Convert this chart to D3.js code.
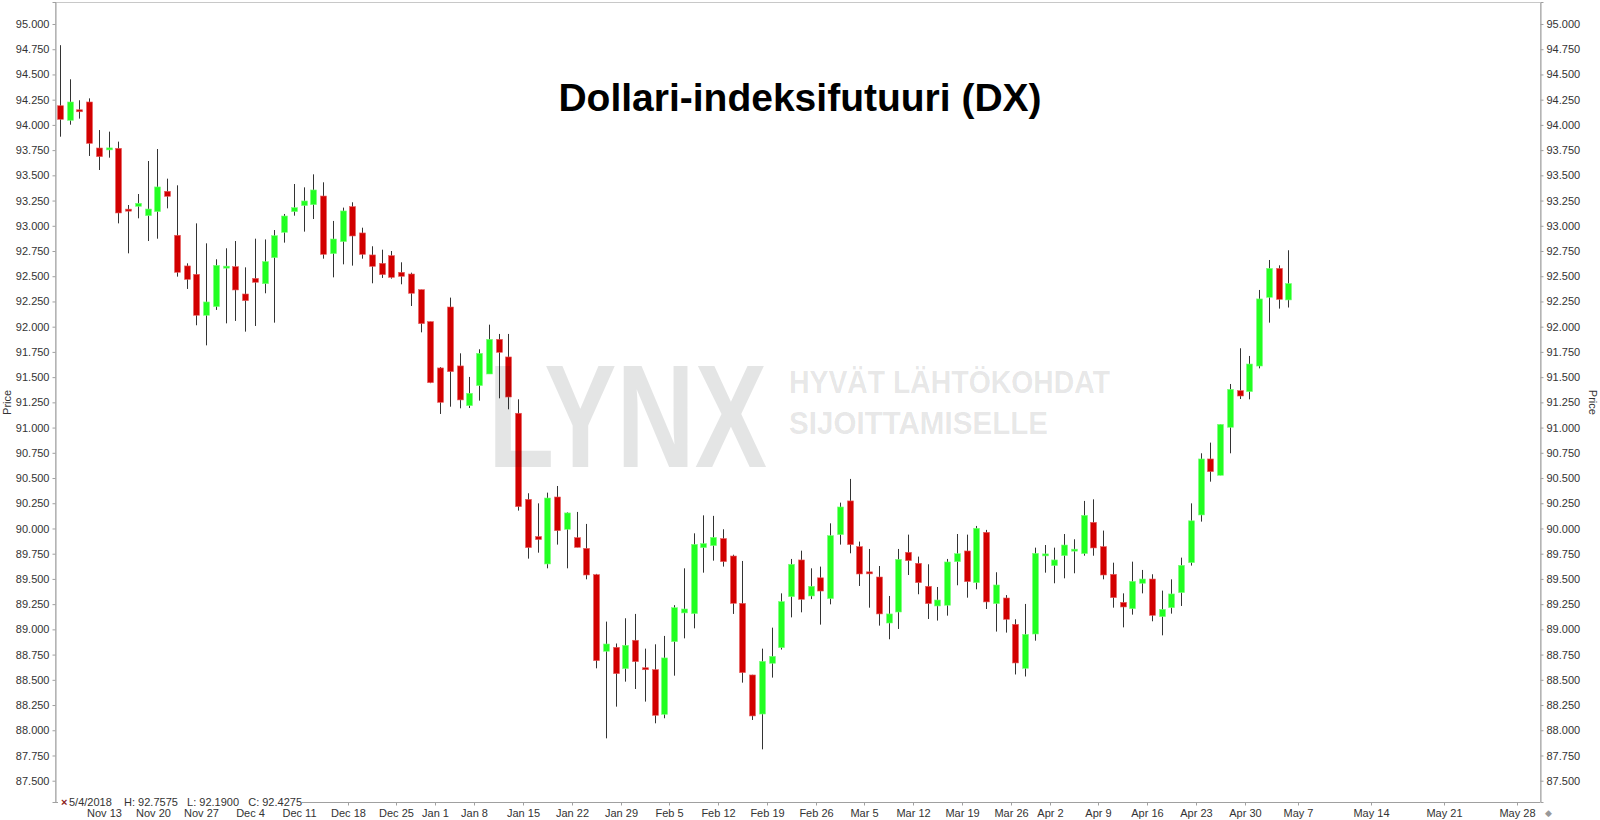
<!DOCTYPE html>
<html><head><meta charset="utf-8">
<script src="https://cdn.jsdelivr.net/npm/d3@7"></script>
<style>
html,body{margin:0;padding:0;background:#fff;}
svg{display:block;}
text{font-family:"Liberation Sans",Arial,sans-serif;}
</style></head>
<body>
<svg id="chart" width="1600" height="820"></svg>
<script>
// ---- data ----
const dates = [
"2017-11-06","2017-11-07","2017-11-08","2017-11-09","2017-11-10",
"2017-11-13","2017-11-14","2017-11-15","2017-11-16","2017-11-17",
"2017-11-20","2017-11-21","2017-11-22","2017-11-23","2017-11-24",
"2017-11-27","2017-11-28","2017-11-29","2017-11-30","2017-12-01",
"2017-12-04","2017-12-05","2017-12-06","2017-12-07","2017-12-08",
"2017-12-11","2017-12-12","2017-12-13","2017-12-14","2017-12-15",
"2017-12-18","2017-12-19","2017-12-20","2017-12-21","2017-12-22",
"2017-12-26","2017-12-27","2017-12-28","2017-12-29",
"2018-01-02","2018-01-03","2018-01-04","2018-01-05",
"2018-01-08","2018-01-09","2018-01-10","2018-01-11","2018-01-12",
"2018-01-15","2018-01-16","2018-01-17","2018-01-18","2018-01-19",
"2018-01-22","2018-01-23","2018-01-24","2018-01-25","2018-01-26",
"2018-01-29","2018-01-30","2018-01-31","2018-02-01","2018-02-02",
"2018-02-05","2018-02-06","2018-02-07","2018-02-08","2018-02-09",
"2018-02-12","2018-02-13","2018-02-14","2018-02-15","2018-02-16",
"2018-02-19","2018-02-20","2018-02-21","2018-02-22","2018-02-23",
"2018-02-26","2018-02-27","2018-02-28","2018-03-01","2018-03-02",
"2018-03-05","2018-03-06","2018-03-07","2018-03-08","2018-03-09",
"2018-03-12","2018-03-13","2018-03-14","2018-03-15","2018-03-16",
"2018-03-19","2018-03-20","2018-03-21","2018-03-22","2018-03-23",
"2018-03-26","2018-03-27","2018-03-28","2018-03-29",
"2018-04-02","2018-04-03","2018-04-04","2018-04-05","2018-04-06",
"2018-04-09","2018-04-10","2018-04-11","2018-04-12","2018-04-13",
"2018-04-16","2018-04-17","2018-04-18","2018-04-19","2018-04-20",
"2018-04-23","2018-04-24","2018-04-25","2018-04-26","2018-04-27",
"2018-04-30","2018-05-01","2018-05-02","2018-05-03","2018-05-04"];

const open = [
94.19,94.045,94.15,94.227,93.771,93.76,93.768,93.165,93.193,93.1,
93.14,93.342,92.906,92.602,92.519,92.113,92.199,92.585,92.595,92.324,
92.479,92.426,92.684,92.935,93.14,93.2,93.209,93.295,92.724,92.843,
93.19,92.929,92.711,92.628,92.704,92.539,92.522,92.367,92.05,91.591,
92.195,91.611,91.217,91.416,91.531,91.875,91.7,91.142,90.289,89.92,
89.648,90.312,89.992,89.909,89.803,89.542,88.783,88.822,88.611,88.892,
88.62,88.601,88.158,88.878,89.163,89.156,89.81,89.83,89.9,89.727,
89.258,88.548,88.161,88.664,88.819,89.324,89.688,89.331,89.511,89.305,
89.939,90.273,89.82,89.57,89.519,89.063,89.172,89.764,89.655,89.427,
89.232,89.239,89.671,89.777,89.463,89.962,89.255,89.311,89.05,88.614,
88.954,89.733,89.632,89.731,89.78,89.751,90.061,89.82,89.546,89.268,
89.205,89.457,89.499,89.126,89.215,89.364,89.661,90.134,90.689,90.527,
91.003,91.366,91.356,91.61,92.291,92.578,92.265];

const high = [
94.79,94.452,94.244,94.263,93.949,93.933,93.834,93.206,93.315,93.642,
93.761,93.467,93.401,92.628,93.024,92.826,92.668,92.777,92.849,92.588,
92.872,92.865,92.958,93.117,93.414,93.381,93.51,93.431,93.048,93.18,
93.233,92.981,92.797,92.763,92.75,92.638,92.535,92.367,92.05,91.6,
92.288,91.736,91.502,91.776,92.02,91.928,91.928,91.28,90.349,90.249,
90.355,90.421,90.16,90.164,90.045,89.55,89.077,88.86,89.11,89.153,
88.809,88.852,88.935,89.24,89.605,89.952,90.13,90.125,89.992,89.74,
89.678,88.55,88.809,89.017,89.357,89.698,89.78,89.605,89.622,90.051,
90.256,90.491,89.87,89.797,89.628,89.331,89.797,89.939,89.721,89.645,
89.42,89.698,89.945,89.939,90.025,89.986,89.566,89.34,89.1,89.252,
89.81,89.836,89.81,89.945,89.893,90.273,90.289,89.979,89.661,89.357,
89.671,89.589,89.546,89.384,89.496,89.711,90.249,90.745,90.851,91.032,
91.432,91.786,91.71,92.364,92.661,92.608,92.7575];

const low = [
93.883,94.002,94.062,93.692,93.553,93.675,93.024,92.727,93.074,92.849,
92.872,93.173,92.496,92.374,92.014,91.815,92.166,92.033,92.057,91.951,
92.007,92.331,92.04,92.833,93.1,92.942,93.067,92.674,92.489,92.618,
92.605,92.674,92.43,92.483,92.476,92.42,92.205,91.944,91.44,91.135,
91.207,91.191,91.194,91.267,91.531,91.29,91.181,90.177,89.701,89.76,
89.605,89.84,89.605,89.813,89.496,88.614,87.92,88.234,88.482,88.409,
88.284,88.069,88.119,88.541,88.911,89.01,89.562,89.681,89.622,89.153,
88.472,88.102,87.811,88.522,88.8,89.119,89.169,89.3,89.047,89.248,
89.84,89.754,89.43,89.215,89.037,88.902,89.004,89.539,89.348,89.103,
89.087,89.136,89.437,89.314,89.397,89.202,88.978,88.968,88.553,88.533,
88.888,89.562,89.457,89.506,89.556,89.73,89.73,89.496,89.215,89.02,
89.146,89.357,89.08,88.941,89.156,89.232,89.632,90.068,90.464,90.527,
90.745,91.283,91.28,91.587,92.04,92.179,92.19];

const close = [
94.055,94.227,94.138,93.817,93.685,93.772,93.127,93.145,93.223,93.166,
93.385,93.292,92.539,92.469,92.113,92.245,92.608,92.6,92.364,92.258,
92.44,92.645,92.902,93.097,93.18,93.246,93.355,92.717,92.869,93.147,
92.899,92.717,92.598,92.516,92.489,92.499,92.331,92.03,91.445,91.25,
91.554,91.274,91.34,91.736,91.875,91.746,91.303,90.216,89.81,89.89,
90.302,89.978,90.154,89.813,89.539,88.69,88.855,88.561,88.842,88.68,
88.6,88.148,88.717,89.215,89.202,89.843,89.85,89.912,89.671,89.258,
88.571,88.142,88.683,88.733,89.275,89.645,89.298,89.427,89.38,89.929,
90.213,89.84,89.549,89.555,89.153,89.153,89.694,89.681,89.463,89.255,
89.291,89.668,89.75,89.473,90.002,89.272,89.44,89.1,88.667,88.951,
89.754,89.748,89.688,89.836,89.795,90.13,89.807,89.539,89.314,89.222,
89.476,89.499,89.139,89.199,89.351,89.635,90.076,90.689,90.563,91.032,
91.379,91.313,91.63,92.275,92.578,92.271,92.4275];

const xTickLabels = ["Nov 13","Nov 20","Nov 27","Dec 4","Dec 11","Dec 18","Dec 25",
"Jan 1","Jan 8","Jan 15","Jan 22","Jan 29","Feb 5","Feb 12","Feb 19","Feb 26",
"Mar 5","Mar 12","Mar 19","Mar 26","Apr 2","Apr 9","Apr 16","Apr 23","Apr 30",
"May 7","May 14","May 21","May 28"];
const xTickDates = ["2017-11-13","2017-11-20","2017-11-27","2017-12-04","2017-12-11","2017-12-18","2017-12-25",
"2018-01-01","2018-01-08","2018-01-15","2018-01-22","2018-01-29","2018-02-05","2018-02-12","2018-02-19","2018-02-26",
"2018-03-05","2018-03-12","2018-03-19","2018-03-26","2018-04-02","2018-04-09","2018-04-16","2018-04-23","2018-04-30",
"2018-05-07","2018-05-14","2018-05-21","2018-05-28"];

const title = "Dollari-indeksifutuuri (DX)";
const legendDate = "5/4/2018", legendH = "92.7575", legendL = "92.1900", legendC = "92.4275";

// ---- chart ----
const L = 55, R = 1540, T = 2, B = 802;
const svg = d3.select("#chart");

const x = d3.scaleLinear().domain([-0.5, 151.8]).range([L, R]);
const y = d3.scaleLinear().domain([87.289, 95.218]).range([B, T]);

// frame
svg.append("rect").attr("x", L + 0.5).attr("y", T + 0.5).attr("width", R - L).attr("height", B - T)
  .attr("fill", "#fff").attr("stroke", "#c8c8c8");

// y axes
const yTicks = d3.range(87.5, 95.001, 0.25);
const fmt = d3.format(".3f");
const yl = svg.append("g").attr("transform", `translate(${L + 0.5},0)`)
  .call(d3.axisLeft(y).tickValues(yTicks).tickFormat(fmt).tickSize(3).tickPadding(3));
const yr = svg.append("g").attr("transform", `translate(${R + 0.5},0)`)
  .call(d3.axisRight(y).tickValues(yTicks).tickFormat(fmt).tickSize(3).tickPadding(3));
[yl, yr].forEach(g => {
  g.select(".domain").attr("stroke", "#a0a0a0");
  g.selectAll(".tick line").attr("stroke", "#a0a0a0");
  g.selectAll("text").attr("font-size", 11).attr("fill", "#333")
    .attr("font-family", "'Liberation Sans',Arial,sans-serif");
});

svg.append("text").attr("transform", `translate(11,${y(91.25)}) rotate(-90)`)
  .attr("text-anchor", "middle").attr("font-size", 11).attr("fill", "#333").text("Price");
svg.append("text").attr("transform", `translate(1589,${y(91.25)}) rotate(90)`)
  .attr("text-anchor", "middle").attr("font-size", 11).attr("fill", "#333").text("Price");

// x axis positions
const parse = d3.timeParse("%Y-%m-%d");
const lastIdx = dates.length - 1;
const lastDate = parse(dates[lastIdx]);
function tickIndex(ds) {
  const d = parse(ds);
  const i = dates.findIndex(s => parse(s) >= d);
  if (i >= 0) return i - 0.5;
  const days = Math.round((d - lastDate) / 864e5);
  return lastIdx + 1 + (days - 3) * 1.07;
}
const xt = svg.append("g").attr("transform", `translate(0,${B + 0.5})`);
xt.append("line").attr("x1", L).attr("x2", R).attr("stroke", "#a0a0a0");
xTickLabels.forEach((lab, k) => {
  const px = Math.round(x(tickIndex(xTickDates[k]))) + 0.5;
  xt.append("line").attr("x1", px).attr("x2", px).attr("y1", 0).attr("y2", 3).attr("stroke", "#a0a0a0");
  xt.append("text").attr("x", px).attr("y", 14).attr("text-anchor", "middle")
    .attr("font-size", 11).attr("fill", "#333").text(lab);
});

// candles
const data = dates.map((d, i) => ({ i, o: open[i], h: high[i], l: low[i], c: close[i] }));
const bw = 6;
const cg = svg.append("g");
cg.selectAll("line.wick").data(data).join("line").attr("class", "wick")
  .attr("x1", d => Math.round(x(d.i)) + 0.5).attr("x2", d => Math.round(x(d.i)) + 0.5)
  .attr("y1", d => y(d.h)).attr("y2", d => y(d.l))
  .attr("stroke", "#333").attr("stroke-width", 1);
cg.selectAll("rect.body").data(data).join("rect").attr("class", "body")
  .attr("x", d => Math.round(x(d.i)) + 0.5 - bw / 2)
  .attr("y", d => y(Math.max(d.o, d.c)))
  .attr("width", bw)
  .attr("height", d => Math.max(2, Math.abs(y(d.o) - y(d.c))))
  .attr("fill", d => d.c >= d.o ? "#22ff22" : "#d20000")
  .attr("stroke", d => d.c >= d.o ? "#7dff7d" : "#e86060").attr("stroke-width", 0.6);

// watermark (drawn over, semi-transparent)
const wm = svg.append("g").attr("fill", "#0a1414").attr("fill-opacity", 0.11)
  .attr("font-family", "'Liberation Sans', Arial, sans-serif").attr("font-weight", "bold");
wm.append("g").attr("transform", "translate(488,467) scale(1,1.34)")
  .append("text").attr("x", 0).attr("y", 0).attr("font-family", "Roboto, 'Liberation Sans', sans-serif")
  .attr("font-size", 110).attr("textLength", 279)
  .attr("lengthAdjust", "spacingAndGlyphs").text("LYNX");
wm.append("text").attr("x", 789).attr("y", 393)
  .attr("font-size", 32).attr("textLength", 321)
  .attr("lengthAdjust", "spacingAndGlyphs").text("HYVÄT LÄHTÖKOHDAT");
wm.append("text").attr("x", 789).attr("y", 434)
  .attr("font-size", 32).attr("textLength", 259)
  .attr("lengthAdjust", "spacingAndGlyphs").text("SIJOITTAMISELLE");

// title
svg.append("text").attr("x", 800).attr("y", 111).attr("text-anchor", "middle")
  .attr("font-family", "'Liberation Sans',Arial,sans-serif").attr("font-weight", "bold")
  .attr("font-size", 39).attr("fill", "#000").text(title);

// legend at bottom
const lg = svg.append("g");
lg.append("rect").attr("x", 58).attr("y", 797).attr("width", 244).attr("height", 12).attr("fill", "#fff");
lg.append("text").attr("x", 61).attr("y", 806).attr("font-size", 11).attr("fill", "#8b1a1a")
  .attr("font-weight", "bold").text("×");
lg.append("text").attr("x", 69).attr("y", 806).attr("font-size", 11).attr("fill", "#333")
  .attr("xml:space", "preserve")
  .text(`${legendDate}    H: ${legendH}   L: ${legendL}   C: ${legendC}`);

svg.append("text").attr("x", 1545).attr("y", 816).attr("font-size", 9).attr("fill", "#999").text("◆");
</script>
</body></html>
